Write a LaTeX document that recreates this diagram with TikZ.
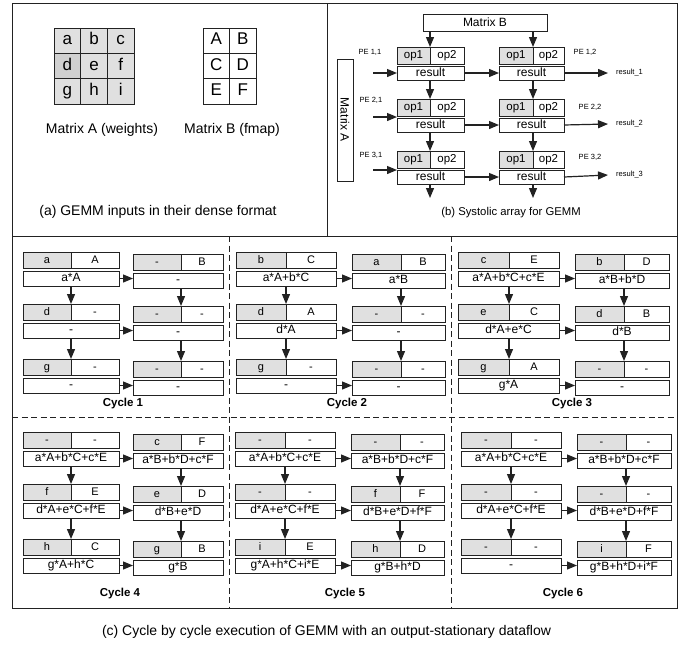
\documentclass[tikz,border=0pt]{standalone}
\usepackage{fontspec}
\setmainfont{Liberation Sans}
\usetikzlibrary{arrows.meta}
\definecolor{ln}{HTML}{222222}
\definecolor{opg}{HTML}{E0E0E0}
\definecolor{opd}{HTML}{D0D0D0}
\newcommand\fsz[1]{\fontsize{#1}{#1}\selectfont}
\newcommand\pegap{19}
\newcommand\PEbox[8]{%
  \pgfmathsetmacro\PEw{#4-#5}%
  \node[opa,minimum width=#5pt,anchor=north west] (#1a) at (#2,#3) {#6};
  \node[opb,minimum width=\PEw pt,anchor=north west] (#1b) at (#2+#5,#3) {#7};
  \node[res,minimum width=#4pt,anchor=north west] (#1r) at (#2,#3+\pegap) {#8};
}
\newcommand\CycArrows[1]{%
  \draw[arr] (#1p11r.east) -- (#1p11r.east -| #1p12r.west);
  \draw[arr] (#1p21r.east) -- (#1p21r.east -| #1p22r.west);
  \draw[arr] (#1p31r.east) -- (#1p31r.east -| #1p32r.west);
  \draw[arr] (#1p11r.south -| #1p11a.east) -- (#1p21a.north east);
  \draw[arr] (#1p21r.south -| #1p21a.east) -- (#1p31a.north east);
  \draw[arr] (#1p12r.south -| #1p12a.east) -- (#1p22a.north east);
  \draw[arr] (#1p22r.south -| #1p22a.east) -- (#1p32a.north east);
}
\begin{document}
\begin{tikzpicture}[x=1pt,y=-1pt,
  box/.style={draw=ln,line width=0.9pt,inner sep=0pt,outer sep=0pt,minimum height=16pt,text height=8pt,text depth=2pt},
  opa/.style={box,fill=opg,font=\fsz{11}},
  opb/.style={box,fill=white,font=\fsz{11}},
  res/.style={box,fill=white,minimum height=15pt,font=\fsz{12}},
  arr/.style={draw=ln,line width=1.2pt,-{Triangle[length=10pt,width=8pt]}},
  cyc/.style={font=\bfseries\fsz{11.5}},
  cell/.style={draw=ln,line width=0.9pt,minimum width=26.7pt,minimum height=25.3pt,inner sep=0pt,outer sep=0pt,font=\fsz{17},text height=12pt,text depth=3.5pt},
  captxt/.style={font=\fsz{14}},
  pel/.style={font=\fsz{7.5},inner sep=0pt},
  frame/.style={draw=ln,line width=1pt},
  dsh/.style={draw=ln,line width=1pt,dash pattern=on 6pt off 3.5pt}]
\useasboundingbox (0,0) rectangle (683,645);
\fill[white] (0,0) rectangle (683,645);

% frames
\draw[frame] (12,3) rectangle (677,608);
\draw[frame] (327,3) -- (327,236);
\draw[frame] (12,236) -- (677,236);
\draw[dsh] (229.5,236) -- (229.5,608);
\draw[dsh] (451.5,236) -- (451.5,608);
\draw[dsh] (12,417) -- (677,417);

% ---------- panel (a)
\node[cell,fill=opg] (ga) at (67.3,40.7) {a};
\node[cell,fill=opg] (gb) at (94,40.7) {b};
\node[cell,fill=opg] (gc) at (120.7,40.7) {c};
\node[cell,fill=opd] (gd) at (67.3,66) {d};
\node[cell,fill=opg] (ge) at (94,66) {e};
\node[cell,fill=opg] (gf) at (120.7,66) {f};
\node[cell,fill=opg] (gg) at (67.3,91.3) {g};
\node[cell,fill=opg] (gh) at (94,91.3) {h};
\node[cell,fill=opg] (gi) at (120.7,91.3) {i};
\node[cell,fill=white] (gA) at (216.3,40.7) {A};
\node[cell,fill=white] (gB) at (242.8,40.7) {B};
\node[cell,fill=white] (gC) at (216.3,66) {C};
\node[cell,fill=white] (gD) at (242.8,66) {D};
\node[cell,fill=white] (gE) at (216.3,91.3) {E};
\node[cell,fill=white] (gF) at (242.8,91.3) {F};
\node[captxt] (labA) at (102,130) {Matrix A (weights)};
\node[captxt] (labB) at (232,130) {Matrix B (fmap)};
\node[captxt] (capa) at (158,212) {(a) GEMM inputs in their dense format};

% ---------- panel (b)
\node[draw=ln,line width=0.9pt,minimum width=124pt,minimum height=17pt,inner sep=0pt,font=\fsz{12}] (mB) at (485,22.5) {Matrix B};
\node[draw=ln,line width=0.9pt,minimum width=122pt,minimum height=16pt,inner sep=0pt,font=\fsz{12},rotate=-90] (mA) at (345,120) {Matrix A};
\begin{scope}[opa/.append style={minimum height=17pt,font=\fsz{11.5}},opb/.append style={minimum height=17pt,font=\fsz{11.5}},res/.append style={minimum height=14pt}]
\PEbox{b11}{397}{47}{67}{33}{op1}{op2}{result}
\PEbox{b12}{499}{47}{65}{34}{op1}{op2}{result}
\PEbox{b21}{397}{99}{67}{33}{op1}{op2}{result}
\PEbox{b22}{499}{99}{65}{34}{op1}{op2}{result}
\PEbox{b31}{397}{151}{67}{33}{op1}{op2}{result}
\PEbox{b32}{499}{151}{65}{34}{op1}{op2}{result}
\end{scope}
\draw[arr] (mB.south -| b11a.east) -- (b11a.north east);
\draw[arr] (mB.south -| b12a.east) -- (b12a.north east);
\draw[arr] (b11r.south -| b11a.east) -- (b21a.north east);
\draw[arr] (b21r.south -| b21a.east) -- (b31a.north east);
\draw[arr] (b12r.south -| b12a.east) -- (b22a.north east);
\draw[arr] (b22r.south -| b22a.east) -- (b32a.north east);
\coordinate (b31o) at (430,198);
\coordinate (b32o) at (533,198);
\draw[arr] (b31r.south -| b31a.east) -- (b31o);
\draw[arr] (b32r.south -| b32a.east) -- (b32o);
\coordinate (in1) at (373,73);
\coordinate (in2) at (373,117);
\coordinate (in3) at (373,170);
\draw[arr] (in1) -- (in1 -| b11r.west);
\draw[arr] (in2) -- (in2 -| b21r.west);
\draw[arr] (in3) -- (in3 -| b31r.west);
\draw[arr] (b11r.east) -- (b12r.west);
\draw[arr] (b21r.east) -- (b22r.west);
\draw[arr] (b31r.east) -- (b32r.west);
\coordinate (out1) at (608,73);
\coordinate (out2) at (608,124);
\coordinate (out3) at (608,175);
\draw[arr] (b12r.east) -- (out1);
\draw[arr] (b22r.east) -- (out2);
\draw[arr] (b32r.east) -- (out3);
\node[pel,anchor=west] (ro1) at (616,73) {result\_1};
\node[pel,anchor=west] (ro2) at (616,124) {result\_2};
\node[pel,anchor=west] (ro3) at (616,175) {result\_3};
\node[pel] (pe11) at (370,52) {PE 1,1};
\node[pel] (pe12) at (585,52) {PE 1,2};
\node[pel] (pe21) at (371,100) {PE 2,1};
\node[pel] (pe22) at (590,107) {PE 2,2};
\node[pel] (pe31) at (371,155) {PE 3,1};
\node[pel] (pe32) at (590,157) {PE 3,2};
\node[font=\fsz{11.3}] (capb) at (511,213) {(b) Systolic array for GEMM};

% ---------- cycle 1
\PEbox{c1p11}{23}{252}{96}{48}{a}{A}{a*A}
\PEbox{c1p12}{133}{254}{90}{48}{-}{B}{-}
\PEbox{c1p21}{23}{304}{96}{48}{d}{-}{-}
\PEbox{c1p22}{133}{306}{90}{48}{-}{-}{-}
\PEbox{c1p31}{23}{359}{96}{48}{g}{-}{-}
\PEbox{c1p32}{133}{361}{90}{48}{-}{-}{-}
\CycArrows{c1}
\node[cyc] (cy1) at (123,404) {Cycle 1};
% ---------- cycle 2
\PEbox{c2p11}{236}{252}{100}{50}{b}{C}{a*A+b*C}
\PEbox{c2p12}{352}{254}{93}{49}{a}{B}{a*B}
\PEbox{c2p21}{236}{304}{100}{50}{d}{A}{d*A}
\PEbox{c2p22}{352}{306}{93}{49}{-}{-}{-}
\PEbox{c2p31}{236}{359}{100}{50}{g}{-}{-}
\PEbox{c2p32}{352}{361}{93}{49}{-}{-}{-}
\CycArrows{c2}
\node[cyc] (cy2) at (347,404) {Cycle 2};
% ---------- cycle 3
\PEbox{c3p11}{458}{252}{101}{51}{c}{E}{a*A+b*C+c*E}
\PEbox{c3p12}{575}{254}{94}{49}{b}{D}{a*B+b*D}
\PEbox{c3p21}{458}{304}{101}{51}{e}{C}{d*A+e*C}
\PEbox{c3p22}{575}{306}{94}{49}{d}{B}{d*B}
\PEbox{c3p31}{458}{359}{101}{51}{g}{A}{g*A}
\PEbox{c3p32}{575}{361}{94}{49}{-}{-}{-}
\CycArrows{c3}
\node[cyc] (cy3) at (572,404) {Cycle 3};
% ---------- cycle 4
\PEbox{c4p11}{23}{432}{96}{48}{-}{-}{a*A+b*C+c*E}
\PEbox{c4p12}{133}{434}{90}{48}{c}{F}{a*B+b*D+c*F}
\PEbox{c4p21}{23}{484}{96}{48}{f}{E}{d*A+e*C+f*E}
\PEbox{c4p22}{133}{486}{90}{48}{e}{D}{d*B+e*D}
\PEbox{c4p31}{23}{539}{96}{48}{h}{C}{g*A+h*C}
\PEbox{c4p32}{133}{541}{90}{48}{g}{B}{g*B}
\CycArrows{c4}
\node[cyc] (cy4) at (120,594) {Cycle 4};
% ---------- cycle 5
\PEbox{c5p11}{235}{432}{100}{50}{-}{-}{a*A+b*C+c*E}
\PEbox{c5p12}{351}{434}{93}{49}{-}{-}{a*B+b*D+c*F}
\PEbox{c5p21}{235}{484}{100}{50}{-}{-}{d*A+e*C+f*E}
\PEbox{c5p22}{351}{486}{93}{49}{f}{F}{d*B+e*D+f*F}
\PEbox{c5p31}{235}{539}{100}{50}{i}{E}{g*A+h*C+i*E}
\PEbox{c5p32}{351}{541}{93}{49}{h}{D}{g*B+h*D}
\CycArrows{c5}
\node[cyc] (cy5) at (345,594) {Cycle 5};
% ---------- cycle 6
\PEbox{c6p11}{461}{432}{100}{50}{-}{-}{a*A+b*C+c*E}
\PEbox{c6p12}{577}{434}{94}{49}{-}{-}{a*B+b*D+c*F}
\PEbox{c6p21}{461}{484}{100}{50}{-}{-}{d*A+e*C+f*E}
\PEbox{c6p22}{577}{486}{94}{49}{-}{-}{d*B+e*D+f*F}
\PEbox{c6p31}{461}{539}{100}{50}{-}{-}{-}
\PEbox{c6p32}{577}{541}{94}{49}{i}{F}{g*B+h*D+i*F}
\CycArrows{c6}
\node[cyc] (cy6) at (563,594) {Cycle 6};

\node[captxt] (capc) at (326.5,632) {(c) Cycle by cycle execution of GEMM with an output-stationary dataflow};
\end{tikzpicture}
\end{document}
